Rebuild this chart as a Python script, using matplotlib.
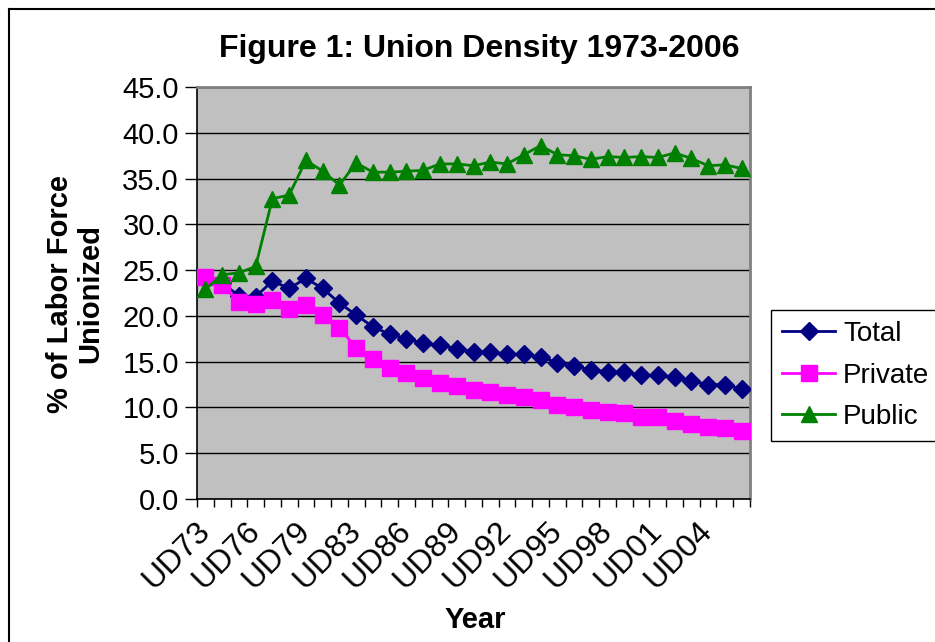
import matplotlib
matplotlib.use("Agg")
import matplotlib.pyplot as plt
from matplotlib.lines import Line2D
import numpy as np

plt.rcParams["font.family"] = ["Liberation Sans", "DejaVu Sans"]

# survey years (no 1982 survey)
years = ["UD73", "UD74", "UD75", "UD76", "UD77", "UD78", "UD79", "UD80", "UD81",
         "UD83", "UD84", "UD85", "UD86", "UD87", "UD88", "UD89", "UD90", "UD91",
         "UD92", "UD93", "UD94", "UD95", "UD96", "UD97", "UD98", "UD99", "UD00",
         "UD01", "UD02", "UD03", "UD04", "UD05", "UD06"]

total = [24.0, 23.6, 22.2, 22.1, 23.8, 23.0, 24.1, 23.0, 21.4,
         20.1, 18.8, 18.0, 17.5, 17.0, 16.8, 16.4, 16.1, 16.1,
         15.8, 15.8, 15.5, 14.9, 14.5, 14.1, 13.9, 13.9, 13.5,
         13.5, 13.3, 12.9, 12.5, 12.5, 12.0]

private = [24.2, 23.4, 21.5, 21.3, 21.7, 20.7, 21.2, 20.1, 18.7,
           16.5, 15.3, 14.3, 13.8, 13.2, 12.7, 12.3, 11.9, 11.7,
           11.4, 11.1, 10.8, 10.3, 10.0, 9.7, 9.5, 9.4, 9.0,
           9.0, 8.5, 8.2, 7.9, 7.8, 7.4]

public = [22.9, 24.5, 24.7, 25.4, 32.8, 33.2, 37.0, 35.8, 34.3,
          36.7, 35.7, 35.7, 35.8, 35.9, 36.6, 36.6, 36.4, 36.8,
          36.6, 37.6, 38.6, 37.6, 37.5, 37.1, 37.4, 37.3, 37.4,
          37.3, 37.8, 37.2, 36.4, 36.5, 36.1]

fig = plt.figure(figsize=(9.35, 6.42), dpi=100)
ax = fig.add_axes([197 / 935, 143 / 642, 553 / 935, 412 / 642])
ax.set_facecolor("#c0c0c0")

x = np.arange(len(years))
ax.plot(x, total, "-D", color="#000080", lw=2, ms=9.5, label="Total", zorder=3)
ax.plot(x, private, "-s", color="#ff00ff", lw=2, ms=11, label="Private", zorder=3)
ax.plot(x, public, "-^", color="#008000", lw=2, ms=11, label="Public", zorder=4)

ax.set_xlim(-0.5, len(years) - 0.5)
ax.set_ylim(0, 45)
ax.set_yticks(np.arange(0, 46, 5))
ax.set_yticklabels(["%.1f" % v for v in np.arange(0, 46, 5)], fontsize=21)
ax.yaxis.grid(True, color="black", lw=1)
ax.set_axisbelow(True)

# ticks between categories, labels every third year
ax.set_xticks(np.arange(-0.5, len(years), 1))
ax.set_xticklabels([])
ax.set_xticks(x[::3], minor=True)
ax.set_xticklabels(years[::3], minor=True, rotation=45, ha="right", va="center",
                   rotation_mode="anchor", fontsize=23)
ax.tick_params(axis="x", which="major", length=6, width=1, direction="out")
ax.tick_params(axis="x", which="minor", length=0, pad=20)
ax.tick_params(axis="y", length=9, width=1, pad=4)

for s in ["top", "right"]:
    ax.spines[s].set_color("#808080")
    ax.spines[s].set_linewidth(2)
for s in ["left", "bottom"]:
    ax.spines[s].set_color("black")
    ax.spines[s].set_linewidth(1.2)

fig.text(479 / 935, 1 - 49 / 642, "Figure 1: Union Density 1973-2006",
         ha="center", va="center", fontsize=23, fontweight="bold")
fig.text(75 / 935, 1 - 294 / 642, "% of Labor Force\nUnionized", rotation=90,
         ha="center", va="center", multialignment="center", fontsize=21,
         fontweight="bold", linespacing=1.12)
fig.text(475 / 935, 1 - 620 / 642, "Year", ha="center", va="center",
         fontsize=21, fontweight="bold")

leg = ax.legend(loc="upper left", bbox_to_anchor=(771 / 935, 1 - 310 / 642),
                bbox_transform=fig.transFigure, fontsize=20, frameon=True,
                fancybox=False, edgecolor="black", framealpha=1,
                handlelength=1.9, handletextpad=0.3, labelspacing=0.56,
                borderaxespad=0, borderpad=0.4)
leg.get_frame().set_linewidth(1)

# chart area border
fig.add_artist(Line2D([9 / 935, 1], [1 - 9 / 642, 1 - 9 / 642],
                      transform=fig.transFigure, color="black", lw=1.5))
fig.add_artist(Line2D([9 / 935, 9 / 935], [0, 1 - 9 / 642],
                      transform=fig.transFigure, color="black", lw=1.5))

fig.savefig("out.png", dpi=100)
